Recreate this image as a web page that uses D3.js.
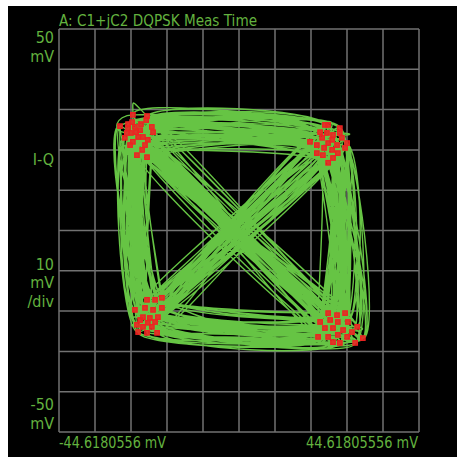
<!DOCTYPE html>
<html>
<head>
<meta charset="utf-8">
<script src="https://cdn.jsdelivr.net/npm/d3@7"></script>
<style>
  html, body { margin: 0; padding: 0; background: #fff; }
  svg { display: block; }
  text { font-family: "Liberation Sans Narrow", "Arial Narrow", "DejaVu Sans Condensed", sans-serif; }
</style>
</head>
<body>
<svg id="chart" width="457" height="457"></svg>
<script>
// Display limits (mV) and grid
const xLimits = [-44.6180556, 44.6180556];
const yLimits = [-50, 50];
const divisions = 10;

const title = "A: C1+jC2 DQPSK Meas Time";
const xTickLabels = ["-44.6180556 mV", "44.61805556 mV"];
const yTopLabel = ["50", "mV"];
const yNameLabel = ["I-Q"];
const yScaleLabel = ["10", "mV", "/div"];
const yBottomLabel = ["-50", "mV"];

// Symbol-instant samples (I, Q in mV) for each constellation state
const symbolsTL = [
  [-26.3, 28.7], [-22.8, 28.4], [-23.0, 27.4], [-29.5, 25.9], [-27.5, 26.4],
  [-25.8, 25.7], [-24.5, 24.9], [-21.6, 25.7], [-21.3, 24.4], [-26.8, 24.2],
  [-25.0, 23.2], [-22.6, 22.5], [-23.3, 21.2], [-27.0, 21.2], [-25.3, 18.7],
  [-22.8, 18.2], [-28.3, 23.0], [-26.3, 22.0], [-24.0, 20.0], [-27.5, 25.4],
  [-25.5, 24.4], [-23.8, 23.2], [-26.5, 26.9], [-24.3, 26.4], [-27.8, 24.2]
];
const symbolsTR = [
  [21.3, 26.2], [22.1, 26.2], [25.0, 25.4], [20.1, 24.4], [21.8, 24.2],
  [23.3, 23.7], [25.0, 24.2], [20.6, 23.0], [17.6, 22.0], [19.3, 21.2],
  [22.1, 21.7], [24.3, 21.2], [26.8, 21.7], [21.1, 20.5], [23.1, 20.0],
  [24.5, 19.2], [19.3, 19.2], [26.3, 20.5], [22.1, 16.8], [23.3, 18.0],
  [20.8, 18.7], [25.5, 23.0], [23.1, 22.5]
];
const symbolsBR = [
  [22.1, -20.5], [24.3, -21.0], [26.3, -20.5], [20.1, -22.7], [22.6, -22.2],
  [24.5, -22.7], [27.0, -22.7], [29.3, -23.9], [21.3, -24.2], [23.3, -24.2],
  [25.8, -24.7], [28.0, -25.2], [19.6, -26.4], [22.1, -26.4], [24.5, -25.9],
  [26.8, -26.4], [25.0, -27.9], [28.8, -27.9], [30.7, -26.7], [23.3, -27.7]
];
const symbolsBL = [
  [-22.8, -17.2], [-20.8, -17.2], [-19.1, -16.7], [-25.8, -19.7], [-23.3, -19.2],
  [-21.3, -19.7], [-19.1, -19.2], [-23.8, -21.5], [-22.1, -21.7], [-20.1, -21.5],
  [-25.3, -23.4], [-23.8, -23.9], [-21.6, -23.9], [-25.0, -25.2], [-22.8, -25.4],
  [-20.3, -25.4], [-24.5, -22.2], [-22.6, -22.9], [-20.8, -22.7]
];

// Received state sequence: 0 = upper-left, 1 = upper-right, 2 = lower-right, 3 = lower-left
const stateSequence =
  "0123210330121132032102301223010323100213320120301321001231022310" +
  "1230331202101320201330211203221031300231210301233201103223010312" +
  "2130302310122320013120233120130202103231210130320123123023031021" +
  "3210013220313102122303012130320102312301" +
  "2301032123010320121303212301302310230123" +
  "1032012303210123210301321023012031230213" +
  "0321230103212032103201230123103210213023" +
  "0213201302310213021320130231310202130213";

const svg = d3.select("#chart");
const W = 457, H = 457;

svg.append("rect").attr("x", 0).attr("y", 0).attr("width", W).attr("height", H).attr("fill", "#ffffff");
svg.append("rect").attr("x", 8).attr("y", 6).attr("width", W - 8).attr("height", H - 6).attr("fill", "#000000");

const plot = { left: 59, right: 419, top: 29, bottom: 432 };
const x = d3.scaleLinear().domain(xLimits).range([plot.left, plot.right]);
const y = d3.scaleLinear().domain(yLimits).range([plot.bottom, plot.top]);

// Graticule
const xGrid = d3.range(divisions + 1).map(i => xLimits[0] + i * (xLimits[1] - xLimits[0]) / divisions);
const yGrid = d3.range(divisions + 1).map(i => yLimits[0] + i * (yLimits[1] - yLimits[0]) / divisions);
const grid = svg.append("g").attr("stroke", "#727272").attr("stroke-width", 1.5);
grid.selectAll("line.v").data(xGrid).join("line")
  .attr("x1", d => x(d)).attr("x2", d => x(d))
  .attr("y1", plot.top).attr("y2", plot.bottom);
grid.selectAll("line.h").data(yGrid).join("line")
  .attr("y1", d => y(d)).attr("y2", d => y(d))
  .attr("x1", plot.left).attr("x2", plot.right);

// Trajectory through the symbol instants
const states = [symbolsTL, symbolsTR, symbolsBR, symbolsBL];
const visits = [0, 0, 0, 0];
const path = Array.from(stateSequence).map(ch => {
  const s = +ch;
  const list = states[s];
  const p = list[visits[s] % list.length];
  visits[s]++;
  return p;
});

const line = d3.line()
  .x(d => x(d[0])).y(d => y(d[1]))
  .curve(d3.curveCardinal.tension(0.5));

svg.append("path")
  .attr("d", line(path))
  .attr("fill", "none")
  .attr("stroke", "#66c444")
  .attr("stroke-width", 1.4);

// Symbol markers
const allSymbols = states.flat();
svg.append("g").selectAll("rect").data(allSymbols).join("rect")
  .attr("x", d => x(d[0]) - 2.25).attr("y", d => y(d[1]) - 2.25)
  .attr("width", 4.5).attr("height", 4.5)
  .attr("fill", "#ee2222").attr("fill-opacity", 0.85)
  .attr("stroke", "#ee2222").attr("stroke-width", 1.2);

// Labels
const green = "#63b23f";
const fs = 16;
svg.append("text").attr("x", 59).attr("y", 26).attr("fill", green).attr("font-size", fs)
  .attr("textLength", 198).attr("lengthAdjust", "spacingAndGlyphs").text(title);

function stack(lines, baselines) {
  lines.forEach((t, i) => {
    svg.append("text").attr("x", 54).attr("y", baselines[i]).attr("fill", green)
      .attr("font-size", fs).attr("text-anchor", "end").text(t);
  });
}
stack(yTopLabel, [43, 62]);
stack(yNameLabel, [165]);
stack(yScaleLabel, [270, 288, 307]);
stack(yBottomLabel, [410, 429]);

svg.append("text").attr("x", 59).attr("y", 448).attr("fill", green).attr("font-size", fs)
  .attr("textLength", 107).attr("lengthAdjust", "spacingAndGlyphs").text(xTickLabels[0]);
svg.append("text").attr("x", 418).attr("y", 448).attr("fill", green).attr("font-size", fs)
  .attr("text-anchor", "end").attr("textLength", 112).attr("lengthAdjust", "spacingAndGlyphs").text(xTickLabels[1]);
</script>
</body>
</html>
